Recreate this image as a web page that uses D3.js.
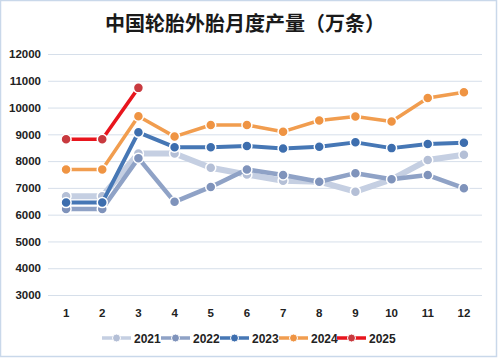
<!DOCTYPE html>
<html><head><meta charset="utf-8">
<script src="https://cdn.jsdelivr.net/npm/d3@7"></script>
<style>
body{margin:0;background:#fff;}
svg{display:block;}
</style></head>
<body>
<svg id="c" width="498" height="358"></svg>
<script>
const months = [1,2,3,4,5,6,7,8,9,10,11,12];
const yTicks = [3000,4000,5000,6000,7000,8000,9000,10000,11000,12000];
const seriesNames = ["2021","2022","2023","2024","2025"];
const v2021 = [6690,6690,8285,8285,7750,7500,7265,7230,6860,7320,8040,8235];
const v2022 = [6210,6210,8110,6480,7035,7690,7480,7230,7550,7320,7480,6990];
const v2023 = [6450,6450,9075,8520,8520,8560,8475,8535,8700,8485,8635,8685];
const v2024 = [7690,7690,9675,8915,9350,9350,9100,9515,9665,9480,10360,10570];
const v2025 = [8815,8815,10735];
const lineColors = ["#c5cfe2","#8fa2c6","#4677b5","#f19d4f","#e8151d"];
const dotColors = ["#b4bfd6","#7f93bb","#3d6eae","#ef9443","#c83a3f"];
const lineWidths = [6,4.5,4,3.5,3.5];

const svg = d3.select("#c");
svg.append("rect").attr("x",0.5).attr("y",0.5).attr("width",496).attr("height",356)
  .attr("fill","#fff").attr("stroke","#c9d8ea").attr("stroke-width",1.5);

svg.append("text").attr("x",245).attr("y",31).attr("text-anchor","middle")
  .attr("font-family","'Noto Sans CJK SC'").attr("font-weight","bold").attr("font-size",20)
  .attr("fill","#1a1a1a").text("中国轮胎外胎月度产量（万条）");

const x = d3.scaleBand().domain(months).range([48,482]);
const y = d3.scaleLinear().domain([3000,12000]).range([295,54]);

const gy = svg.append("g").attr("transform","translate(48,0)")
  .call(d3.axisLeft(y).tickValues(yTicks).tickSize(-434).tickFormat(d3.format("d")));
gy.select(".domain").remove();
gy.selectAll(".tick line").attr("stroke","#d6dfea").attr("stroke-width",1);
gy.selectAll(".tick text").attr("x",-7).attr("font-family","'Liberation Sans', Arial")
  .attr("font-weight","bold").attr("font-size",11.5).attr("fill","#222");

const gx = svg.append("g").attr("transform","translate(0,295)")
  .call(d3.axisBottom(x).tickSize(0));
gx.select(".domain").remove();
gx.selectAll(".tick text").attr("y",14).attr("font-family","'Liberation Sans', Arial")
  .attr("font-weight","bold").attr("font-size",11.5).attr("fill","#222");

const data = [v2021,v2022,v2023,v2024,v2025];
const line = d3.line().x((d,i)=>x(months[i])+x.bandwidth()/2).y(d=>y(d));
data.forEach((vals,k)=>{
  const g = svg.append("g");
  g.append("path").datum(vals).attr("d",line).attr("fill","none")
    .attr("stroke",lineColors[k]).attr("stroke-width",lineWidths[k]).attr("stroke-linejoin","round");
  g.selectAll("circle").data(vals).join("circle")
    .attr("cx",(d,i)=>x(months[i])+x.bandwidth()/2).attr("cy",d=>y(d)).attr("r",5)
    .attr("fill",dotColors[k]).attr("stroke","#fff").attr("stroke-width",1.5);
});

// legend
const legX = [102,161,220,279,337];
seriesNames.forEach((n,k)=>{
  const g = svg.append("g").attr("transform",`translate(${legX[k]},338)`);
  g.append("line").attr("x1",0).attr("x2",29).attr("y1",0).attr("y2",0)
    .attr("stroke",lineColors[k]).attr("stroke-width",3.5);
  g.append("circle").attr("cx",14.5).attr("cy",0).attr("r",4).attr("fill",dotColors[k])
    .attr("stroke","#fff").attr("stroke-width",1);
  g.append("text").attr("x",32).attr("y",4.5).attr("font-family","'Liberation Sans', Arial")
    .attr("font-weight","bold").attr("font-size",12).attr("fill","#222").text(n);
});
</script>
</body></html>
